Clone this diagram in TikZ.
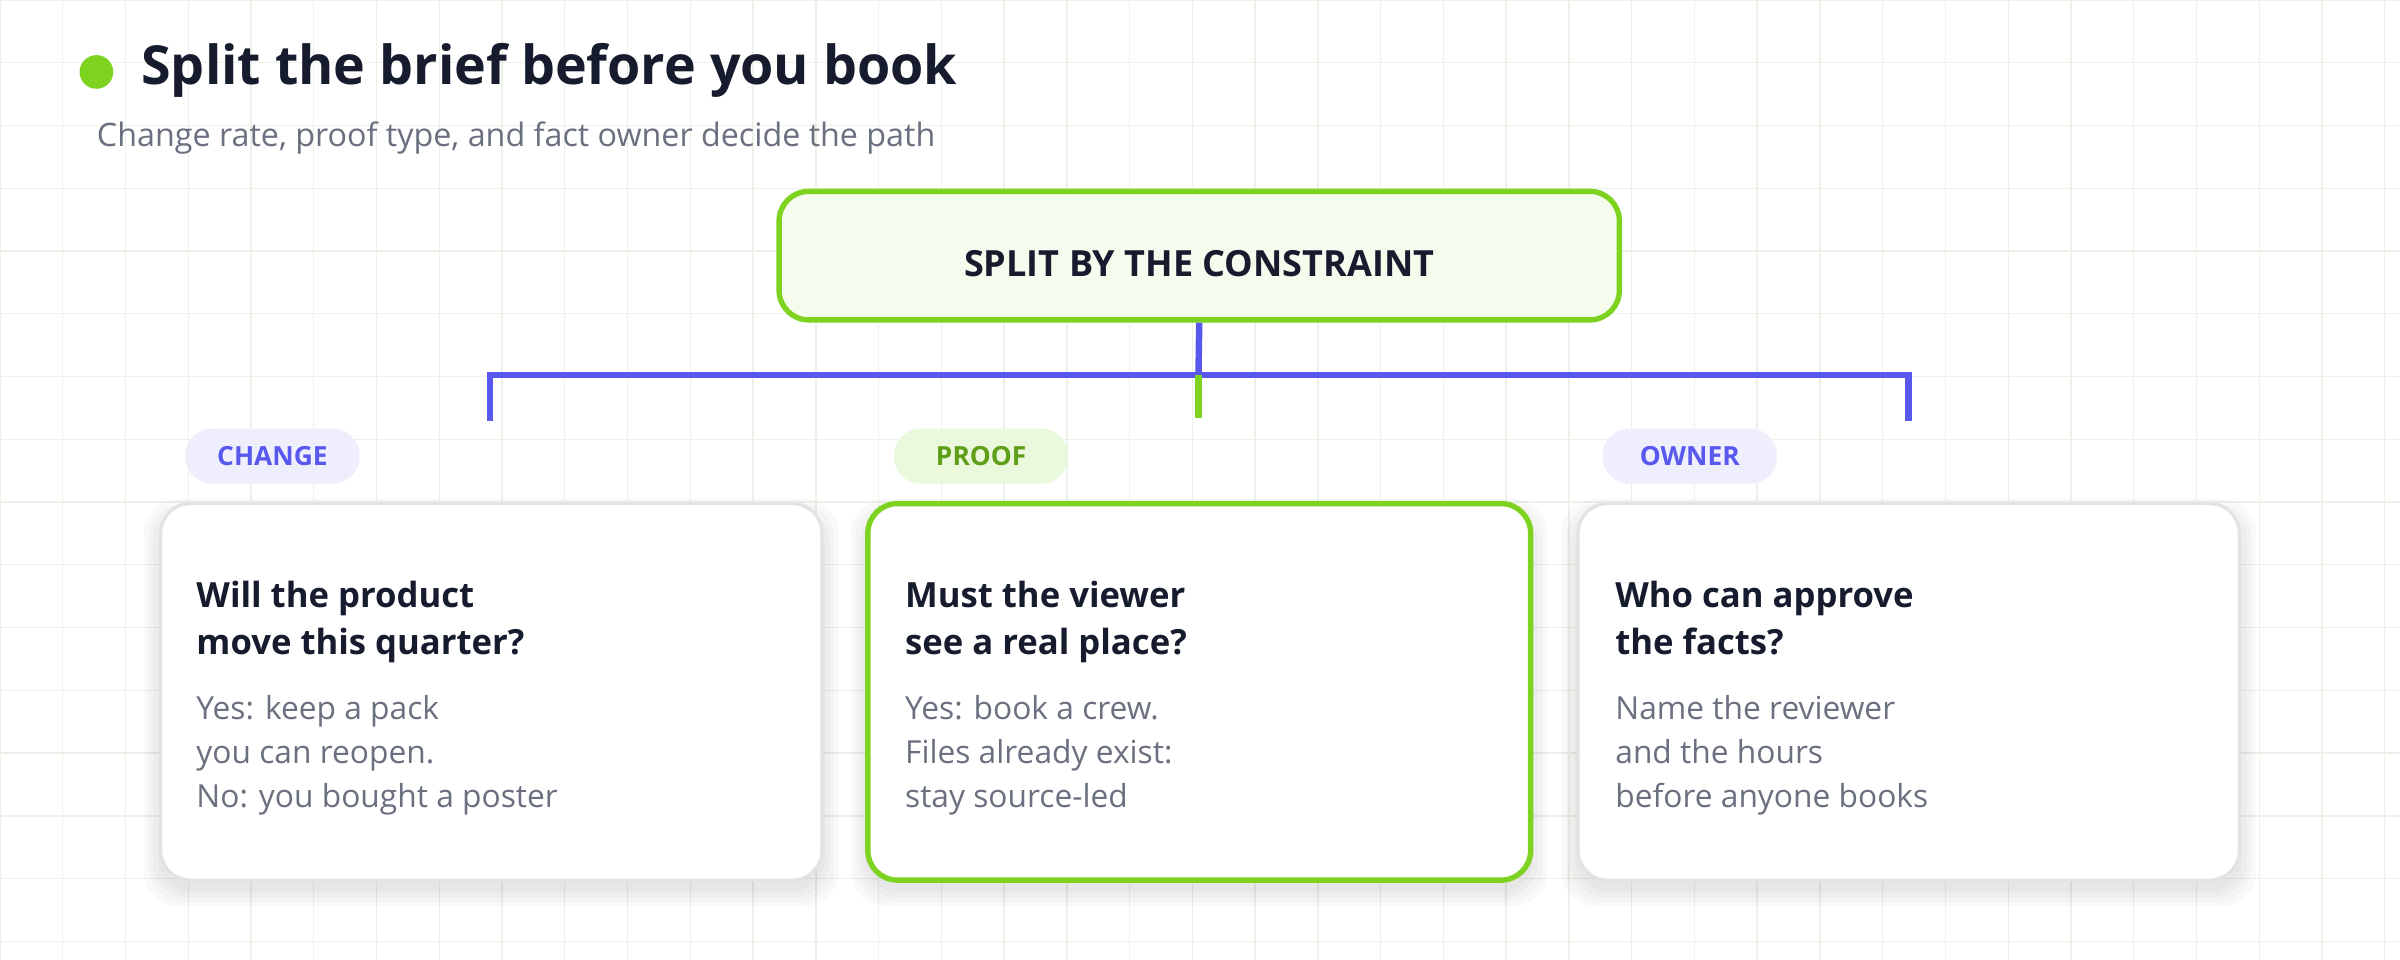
\documentclass[tikz,border=0pt]{standalone}
\usepackage{fontspec}
\setmainfont{Open Sans}
\definecolor{grn}{HTML}{7ED321}
\definecolor{blu}{HTML}{5858EE}
\definecolor{ink}{HTML}{161B2E}
\definecolor{gry}{HTML}{6B7080}
\definecolor{gridc}{HTML}{EDF2E9}
\begin{document}
\begin{tikzpicture}[x=0.02cm,y=-0.02cm,
 card/.style={draw=#1,line width=1.2pt,fill=white,rounded corners=11pt},
 shad/.style={fill=black,opacity=0.025,rounded corners=13pt},
 pill/.style={fill=#1,rounded corners=10pt,minimum width=114*0.02cm,minimum height=36*0.02cm,inner sep=0pt,font=\bfseries\fontsize{9.8}{11}\selectfont},
 head/.style={anchor=north west,align=left,text=ink,font=\bfseries\fontsize{12.9}{17.6}\selectfont,inner sep=0pt},
 body/.style={anchor=north west,align=left,text=gry,font=\fontsize{11.8}{16.4}\selectfont,inner sep=0pt},
 conn/.style={blu,line width=2.4pt}]
\useasboundingbox (0,0) rectangle (1568,627);
\fill[white] (0,0) rectangle (1568,627);
\foreach \x in {0,41,...,1568} \draw[gridc,line width=0.5pt] (\x,0) -- (\x,627);
\foreach \y in {0,41,...,627} \draw[gridc,line width=0.5pt] (0,\y) -- (1568,\y);
\fill[grn] (63,47) circle (11);
\node[anchor=west,inner sep=0pt,text=ink,font=\bfseries\fontsize{20}{22}\selectfont] (title) at (92,46) {Split the brief before you book};
\node[anchor=west,inner sep=0pt,text=gry,font=\fontsize{12}{13}\selectfont] (sub) at (63,90) {Change rate, proof type, and fact owner decide the path};
\node[draw=grn,line width=2pt,fill=grn!8,rounded corners=11pt,minimum width=549*0.02cm,minimum height=84*0.02cm,text=ink,font=\bfseries\fontsize{13.4}{15}\selectfont] (top) at (783.5,167) {};
\node[text=ink,font=\bfseries\fontsize{13.4}{15}\selectfont,inner sep=0pt] (toplbl) at (783.5,172) {SPLIT BY THE CONSTRAINT};
\coordinate (j) at (783,245);
\coordinate (l) at (320,245); \coordinate (r) at (1247,245);
\coordinate (ld) at (320,273); \coordinate (rd) at (1247,273); \coordinate (md) at (783,273);
\draw[conn] (top.south) -- (j);
\draw[conn,line cap=rect] (ld) -- (l) -- (r) -- (rd);
\draw[grn,line width=2.4pt] (j) -- (md);
\node[pill=blu!10,text=blu] (p1) at (178,298) {CHANGE};
\node[pill=grn!16,text=grn!75!black] (p2) at (641,298) {PROOF};
\node[pill=blu!10,text=blu] (p3) at (1104,298) {OWNER};
\foreach \a/\b in {105/537,567/1000,1031/1463}{
  \foreach \d in {2,5,8,11} \fill[shad] (\a-\d,329-\d+8) rectangle (\b+\d,575+\d+6);
}
\draw[card=gray!22] (105,329) rectangle (537,575);
\draw[card=grn,line width=2pt] (567,329) rectangle (1000,575);
\draw[card=gray!22] (1031,329) rectangle (1463,575);
\node[head] (h1) at (128,379) {Will the product\\move this quarter?};
\node[body] (b1) at (128,454) {Yes: keep a pack\\you can reopen.\\No: you bought a poster};
\node[head] (h2) at (591,379) {Must the viewer\\see a real place?};
\node[body] (b2) at (591,454) {Yes: book a crew.\\Files already exist:\\stay source-led};
\node[head] (h3) at (1055,379) {Who can approve\\the facts?};
\node[body] (b3) at (1055,454) {Name the reviewer\\and the hours\\before anyone books};
\end{tikzpicture}
\end{document}
